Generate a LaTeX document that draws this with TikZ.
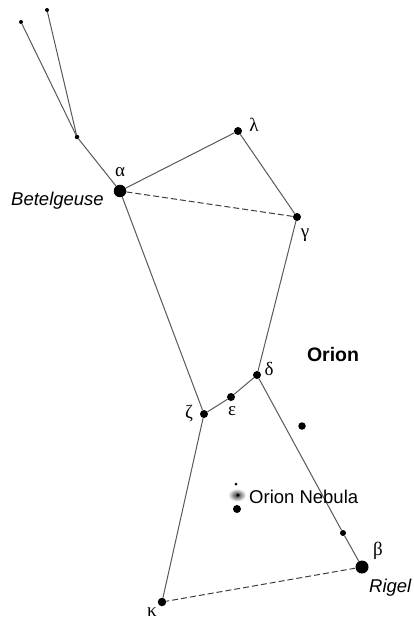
\documentclass[tikz,border=0pt]{standalone}
\usepackage{fontspec}
\setmainfont{Liberation Sans}
\newfontfamily\grk{Liberation Serif}
\begin{document}
\begin{tikzpicture}[x=1pt,y=-1pt,
  star/.style={circle,fill=black,inner sep=0pt,minimum size=#1},
  star/.default=8pt,
  cline/.style={draw=black!65,line width=1pt},
  dline/.style={cline,draw=black!75,dash pattern=on 6pt off 3pt},
  glabel/.style={font=\fontsize{19}{21}\selectfont\grk,inner sep=0pt},
  slabel/.style={font=\fontsize{18.5}{20}\selectfont,inner sep=0pt}]
\useasboundingbox[fill=white] (0,0) rectangle (414,620);
% stars
\node[star=4pt] (t1) at (21,22) {};
\node[star=4pt] (t2) at (47,10) {};
\node[star=4.5pt] (j) at (77,137) {};
\node[star=12.5pt] (alpha) at (120,191) {};
\node[star=8pt] (lambda) at (238,131) {};
\node[star=8pt] (gamma) at (297,217) {};
\node[star=8pt] (delta) at (257,375) {};
\node[star=8pt] (eps) at (231,397) {};
\node[star=8pt] (zeta) at (204,414) {};
\node[star=7.5pt] (x1) at (302,426) {};
\node[star=6pt] (x2) at (343,533) {};
\node[star=13pt] (beta) at (362,567) {};
\node[star=8.5pt] (kappa) at (162,602) {};
% nebula
\node[star=3pt] (n1) at (236,484) {};
\shade[inner color=black!80,outer color=white] (237,495) ellipse (9pt and 6.5pt);
\node[star=3.5pt] (n2) at (238,495) {};
\node[star=8pt] (n3) at (237,509) {};
% connectors
\draw[cline] (t1) -- (j);
\draw[cline] (t2) -- (j);
\draw[cline] (j) -- (alpha);
\draw[cline] (alpha) -- (lambda);
\draw[cline] (lambda) -- (gamma);
\draw[dline] (alpha) -- (gamma);
\draw[cline] (gamma) -- (delta);
\draw[cline] (alpha) -- (zeta);
\draw[cline] (zeta) -- (eps);
\draw[cline] (eps) -- (delta);
\draw[cline] (delta) -- (x2);
\draw[cline] (x2) -- (beta);
\draw[dline] (beta) -- (kappa);
\draw[cline] (kappa) -- (zeta);
% labels
\node[glabel] (la) at (120,172) {α};
\node[slabel,anchor=base east] (lb) at (104,206) {\itshape Betelgeuse};
\node[glabel] (ll) at (254,125) {λ};
\node[glabel] (lg) at (305,235) {γ};
\node[glabel] (ld) at (269,369) {δ};
\node[glabel] (le) at (232,411) {ε};
\node[glabel] (lz) at (189,414) {ζ};
\node[slabel,font=\fontsize{19.5}{22}\selectfont\bfseries] (lo) at (333,355) {Orion};
\node[slabel,anchor=west] (lneb) at (249,497) {Orion Nebula};
\node[glabel] (lbeta) at (378,551) {β};
\node[slabel,anchor=base west] (lr) at (369,592) {\itshape Rigel};
\node[glabel] (lk) at (152,612) {κ};
\end{tikzpicture}
\end{document}
